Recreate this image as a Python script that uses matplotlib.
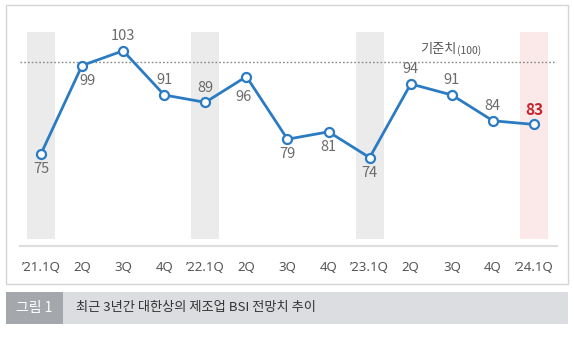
import matplotlib
matplotlib.use("Agg")
import matplotlib.pyplot as plt
from matplotlib.patches import Rectangle

plt.rcParams["font.family"] = ["Noto Sans CJK KR", "DejaVu Sans"]

# ---------------------------------------------------------------------------
# Data
# ---------------------------------------------------------------------------
quarters = ["’21.1Q", "2Q", "3Q", "4Q", "’22.1Q", "2Q", "3Q", "4Q",
            "’23.1Q", "2Q", "3Q", "4Q", "’24.1Q"]
bsi = [75, 99, 103, 91, 89, 96, 79, 81, 74, 94, 91, 84, 83]
label_above = [False, False, True, True, True, False, False, False,
               False, True, True, True, True]
shaded_idx = [0, 4, 8]
latest_idx = 12
baseline_value = 100
caption_tag = "그림 1"
caption_text = "최근 3년간 대한상의 제조업 BSI 전망치 추이"

LINE_BLUE = "#2b7bc3"
LABEL_GRAY = "#6b6b6b"
RED = "#c8232c"

W, H = 574, 345
fig = plt.figure(figsize=(W / 100, H / 100), dpi=100)
fig.patch.set_facecolor("white")


def px(x0, y0, x1, y1):
    # pixel box -> figure fraction [left, bottom, width, height]
    return [x0 / W, 1 - y1 / H, (x1 - x0) / W, (y1 - y0) / H]


# outer frame + caption bar
bg = fig.add_axes([0, 0, 1, 1])
bg.set_xlim(0, W)
bg.set_ylim(H, 0)
bg.axis("off")
bg.add_patch(Rectangle((6, 5), 562, 279, fill=False, ec="#d4d4d4", lw=1.0))
bg.add_patch(Rectangle((6, 292), 562, 32, fc="#dcdde0", ec="none"))
bg.add_patch(Rectangle((6, 292), 57, 32, fc="#a4a7ab", ec="none"))
bg.text(34.5, 308, caption_tag, color="white", fontsize=10,
        ha="center", va="center")
bg.text(76, 308, caption_text, color="#333333", fontsize=9.5,
        ha="left", va="center")

# ---------------------------------------------------------------------------
# Main chart
# ---------------------------------------------------------------------------
ax = fig.add_axes(px(20, 25, 557, 246))
ax.set_facecolor("none")
n = len(bsi)
xs = list(range(n))
ax.set_xlim(-0.51, 12.56)
ax.set_ylim(50, 110)

for i in shaded_idx:
    ax.axvspan(i - 0.34, i + 0.34, ymin=0.03, ymax=0.97, color="#ebebeb",
               lw=0, zorder=0)
ax.axvspan(latest_idx - 0.34, latest_idx + 0.34, ymin=0.03, ymax=0.97,
           color="#fbe9e9", lw=0, zorder=0)

ax.axhline(baseline_value, color="#8a8a8a", lw=1.0, ls=(0, (1.2, 1.5)),
           zorder=1)
ax.text(10.12, baseline_value + 1.6, "기준치", color="#555555", fontsize=9.5,
        ha="right", va="bottom")
ax.text(10.12, baseline_value + 1.6, "(100)", color="#555555", fontsize=7.5,
        ha="left", va="bottom")

ax.plot(xs, bsi, color=LINE_BLUE, lw=2.0, marker="o", ms=6.5,
        mfc="white", mec=LINE_BLUE, mew=1.6, zorder=3)

for i, (v, up) in enumerate(zip(bsi, label_above)):
    dy = 10.5 if up else -11
    dx = 0
    # nudge the two labels that would sit on the line
    if i == 1:
        dx = 4
    if i == 5:
        dx, dy = -2, -15
    kw = dict(textcoords="offset points", ha="center", va="center")
    if i == latest_idx:
        ax.annotate(str(v), (i, v), xytext=(dx, dy), color=RED,
                    fontsize=11, fontweight="bold", **kw)
    else:
        ax.annotate(str(v), (i, v), xytext=(dx, dy), color=LABEL_GRAY,
                    fontsize=10.5, **kw)

for s in ["top", "left", "right"]:
    ax.spines[s].set_visible(False)
ax.spines["bottom"].set_color("#dddddd")
ax.spines["bottom"].set_linewidth(1.5)
ax.set_yticks([])
ax.set_xticks(xs)
ax.set_xticklabels(quarters, fontsize=9.5, color="#555555",
                   family=["Noto Sans", "DejaVu Sans"])
ax.tick_params(axis="x", length=0, pad=11)

fig.savefig("out.png", dpi=100)
